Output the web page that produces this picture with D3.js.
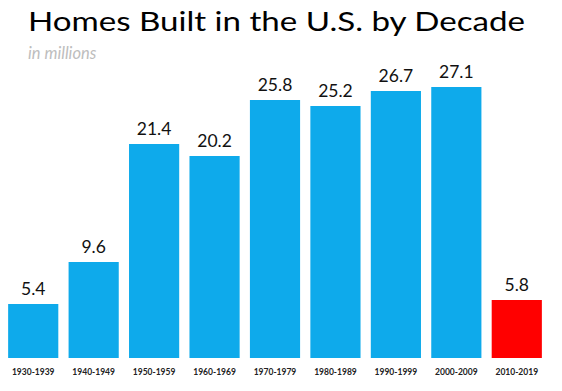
<!DOCTYPE html>
<html><head><meta charset="utf-8">
<script src="https://cdn.jsdelivr.net/npm/d3@7"></script>
<style>body{margin:0;background:#fff}svg{display:block}</style>
</head><body>
<svg id="c" width="562" height="391"></svg>
<script>
const categories = ["1930-1939","1940-1949","1950-1959","1960-1969","1970-1979","1980-1989","1990-1999","2000-2009","2010-2019"];
const values = [5.4, 9.6, 21.4, 20.2, 25.8, 25.2, 26.7, 27.1, 5.8];
const highlight = ["2010-2019"];
const titleText = "Homes Built in the U.S. by Decade";
const subtitleText = "in millions";

const svg = d3.select("#c");
const font = "Lato, 'Open Sans', sans-serif";
const baseY = 358;
const x = d3.scaleBand().domain(categories).range([3, 547]).paddingInner(0.17).paddingOuter(0.085);
const y = d3.scaleLinear().domain([0, 10]).range([baseY, baseY - 100]);

svg.append("text").attr("x", 28).attr("y", 31)
  .attr("font-family", font).attr("font-size", 26.5)
  .attr("textLength", 497).attr("lengthAdjust", "spacingAndGlyphs")
  .attr("fill", "#000").text(titleText);

svg.append("text").attr("x", 28).attr("y", 59).attr("font-family", font)
  .attr("font-style", "italic").attr("font-size", 16.5).attr("fill", "#bdbdbd").text(subtitleText);

const data = categories.map((c, i) => ({c, v: values[i]}));
svg.selectAll("rect.bar").data(data).join("rect").attr("class", "bar")
  .attr("x", d => x(d.c)).attr("width", x.bandwidth())
  .attr("y", d => y(d.v)).attr("height", d => baseY - y(d.v))
  .attr("fill", d => highlight.includes(d.c) ? "#ff0000" : "#0eaaeb");

svg.selectAll("text.val").data(data).join("text").attr("class", "val")
  .attr("x", d => x(d.c) + x.bandwidth() / 2).attr("y", d => y(d.v) - 9)
  .attr("text-anchor", "middle").attr("font-family", font).attr("font-size", 17.5)
  .attr("fill", "#111").text(d => d.v.toFixed(1));

const axis = d3.axisBottom(x).tickSize(0).tickPadding(0);
const g = svg.append("g").attr("transform", `translate(0,${baseY})`).call(axis);
g.select(".domain").remove();
g.selectAll("text").attr("font-family", font).attr("font-size", 8.5).attr("font-weight", "bold")
  .attr("fill", "#222").attr("dy", null).attr("y", 17);
</script>
</body></html>
